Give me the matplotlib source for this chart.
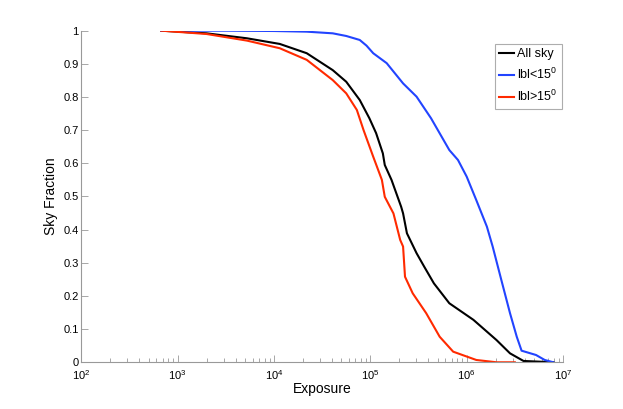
import numpy as np
import matplotlib
matplotlib.use("Agg")
import matplotlib.pyplot as plt

plt.rcParams['font.family'] = ['Liberation Sans', 'DejaVu Sans']
plt.rcParams['mathtext.fontset'] = 'custom'
plt.rcParams['mathtext.rm'] = 'Liberation Sans'
plt.rcParams['mathtext.it'] = 'Liberation Sans'
plt.rcParams['mathtext.default'] = 'regular'

# log10(exposure), sky fraction
all_logx = [2.83, 3.30, 3.72, 4.06, 4.34, 4.61, 4.75, 4.89, 4.99, 5.06, 5.13, 5.15,
            5.22, 5.32, 5.34, 5.38, 5.48, 5.56, 5.66, 5.82, 6.07, 6.31, 6.45, 6.59, 6.90]
all_y = [1.0, 0.992, 0.977, 0.960, 0.932, 0.881, 0.846, 0.791, 0.736, 0.691, 0.630, 0.595,
         0.550, 0.469, 0.449, 0.389, 0.329, 0.288, 0.238, 0.178, 0.128, 0.067, 0.027, 0.004, 0.0]

low_logx = [2.83, 3.50, 4.00, 4.34, 4.61, 4.75, 4.89, 4.96, 5.03, 5.17, 5.34, 5.48, 5.63,
            5.82, 5.91, 6.00, 6.10, 6.21, 6.27, 6.36, 6.45, 6.52, 6.57, 6.72, 6.81, 6.90]
low_y = [1.0, 1.0, 0.999, 0.997, 0.992, 0.984, 0.972, 0.955, 0.932, 0.902, 0.841, 0.801, 0.736,
         0.640, 0.610, 0.560, 0.489, 0.409, 0.349, 0.248, 0.148, 0.077, 0.035, 0.022, 0.007, 0.0]

high_logx = [2.83, 3.30, 3.72, 4.06, 4.34, 4.61, 4.75, 4.86, 4.93, 5.03, 5.12, 5.15, 5.24,
             5.31, 5.34, 5.36, 5.44, 5.58, 5.72, 5.86, 6.10, 6.31, 6.50]
high_y = [1.0, 0.990, 0.970, 0.947, 0.912, 0.851, 0.811, 0.761, 0.700, 0.620, 0.550, 0.499, 0.449,
          0.369, 0.349, 0.258, 0.208, 0.148, 0.077, 0.032, 0.007, 0.0, 0.0]

labels = ['All sky', 'lbl<15$^0$', 'lbl>15$^0$']
colors = ['black', '#2244ff', '#ff2a00']

fig = plt.figure(figsize=(6.23, 4.09), dpi=100)
ax = fig.add_axes([0.1305, 0.1142, 0.9037 - 0.1305, 0.925 - 0.1142])

for lx, y, lab, c in zip([all_logx, low_logx, high_logx], [all_y, low_y, high_y], labels, colors):
    ax.plot(10 ** np.array(lx), y, color=c, lw=1.5, label=lab)

ax.set_xscale('log')
ax.set_xlim(1e2, 1e7)
ax.set_ylim(0, 1)
ax.set_yticks(np.arange(0, 1.01, 0.1))
ax.set_yticklabels(['0', '0.1', '0.2', '0.3', '0.4', '0.5', '0.6', '0.7', '0.8', '0.9', '1'])

for s in ['top', 'right']:
    ax.spines[s].set_visible(False)
for s in ['left', 'bottom']:
    ax.spines[s].set_color('#999999')
    ax.spines[s].set_linewidth(0.8)

ax.tick_params(which='both', direction='in', colors='#999999', labelcolor='black', labelsize=8)
ax.tick_params(which='major', length=5, width=0.6)
ax.tick_params(which='minor', length=3, width=0.6)
ax.tick_params(axis='y', pad=2)
ax.tick_params(axis='x', pad=4)

ax.set_xlabel('Exposure', fontsize=10, labelpad=0)
ax.set_ylabel('Sky Fraction', fontsize=10, labelpad=4)

leg = ax.legend(loc='upper right', bbox_to_anchor=(0.997, 0.96), fontsize=9, frameon=True,
                fancybox=False, handlelength=1.2, handletextpad=0.2, borderpad=0.35,
                labelspacing=0.55, borderaxespad=0.0)
leg.get_frame().set_edgecolor('#999999')
leg.get_frame().set_linewidth(0.8)

fig.savefig('out.png', dpi=100)
